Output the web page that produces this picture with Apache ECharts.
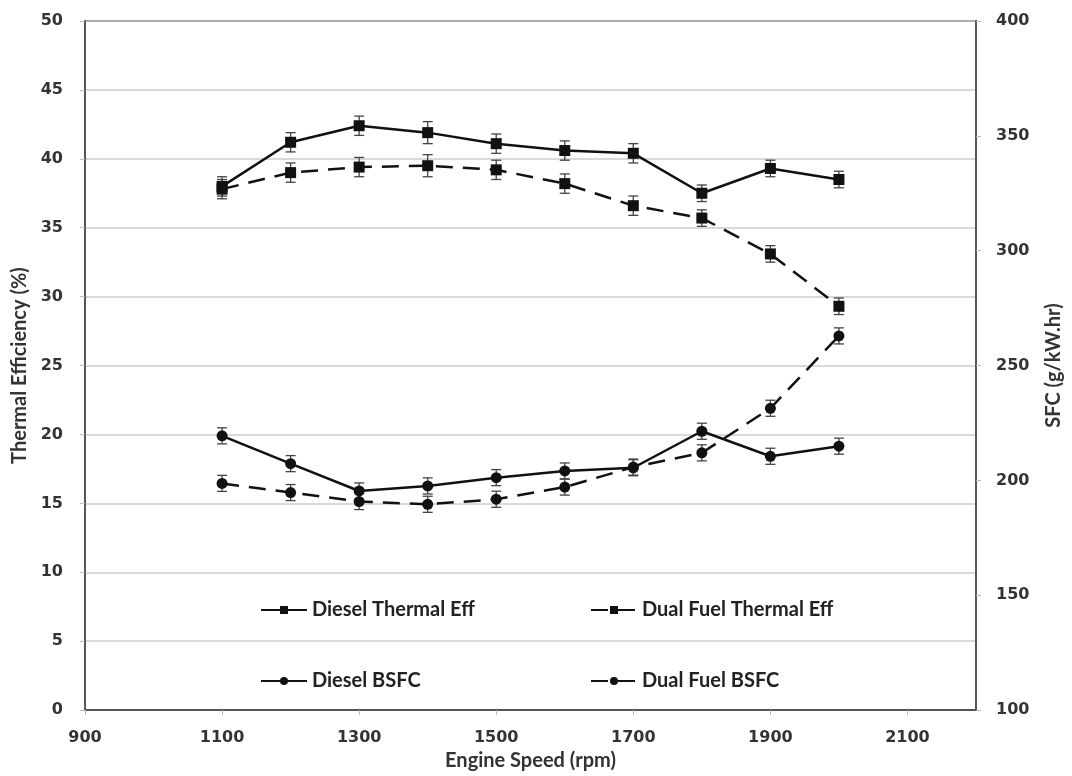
<!DOCTYPE html>
<html>
<head>
<meta charset="utf-8">
<script src="https://cdn.jsdelivr.net/npm/echarts@6/dist/echarts.min.js"></script>
<style>
html,body{margin:0;padding:0;background:#fff;}
#chart{width:1072px;height:776px;}
</style>
</head>
<body>
<div id="chart"></div>
<script>
// ---- data ----
var speeds = [1100, 1200, 1300, 1400, 1500, 1600, 1700, 1800, 1900, 2000];
var dieselThermal = [38.0, 41.2, 42.4, 41.9, 41.1, 40.6, 40.4, 37.5, 39.3, 38.5];
var dualThermal   = [37.8, 39.0, 39.4, 39.5, 39.2, 38.2, 36.6, 35.7, 33.1, 29.3];
var dieselBSFC    = [219.4, 207.3, 195.4, 197.6, 201.2, 204.1, 205.5, 221.4, 210.5, 214.9];
var dualBSFC      = [198.7, 194.7, 190.8, 189.6, 191.8, 197.1, 205.8, 212.0, 231.4, 262.9];
var errThermal    = [0.7, 0.7, 0.7, 0.8, 0.7, 0.7, 0.7, 0.6, 0.6, 0.6];
var errBSFC       = [3.5, 3.5, 3.5, 3.5, 3.5, 3.5, 3.5, 3.5, 3.5, 3.5];
var names = ['Diesel Thermal Eff', 'Dual Fuel Thermal Eff', 'Diesel BSFC', 'Dual Fuel BSFC'];

function pairs(ys) { return speeds.map(function (x, i) { return [x, ys[i]]; }); }
function errData(ys, es) { return speeds.map(function (x, i) { return [x, ys[i] - es[i], ys[i] + es[i]]; }); }

var labelFont = { fontFamily: 'DejaVu Sans', fontWeight: 'bold', fontSize: 16, color: '#333' };
var nameFont = { fontFamily: 'Lato', fontWeight: 'bold', fontSize: 20, color: '#333' };

function errorSeries(ys, es, yIdx) {
  return {
    type: 'custom',
    yAxisIndex: yIdx,
    silent: true,
    z: 1,
    data: errData(ys, es),
    encode: { x: 0, y: [1, 2] },
    renderItem: function (params, api) {
      var x = api.value(0);
      var lo = api.coord([x, api.value(1)]);
      var hi = api.coord([x, api.value(2)]);
      var hw = 5;
      var st = { stroke: '#444', lineWidth: 1.3 };
      return {
        type: 'group',
        children: [
          { type: 'line', shape: { x1: lo[0], y1: lo[1], x2: hi[0], y2: hi[1] }, style: st },
          { type: 'line', shape: { x1: lo[0] - hw, y1: lo[1], x2: lo[0] + hw, y2: lo[1] }, style: st },
          { type: 'line', shape: { x1: hi[0] - hw, y1: hi[1], x2: hi[0] + hw, y2: hi[1] }, style: st }
        ]
      };
    }
  };
}

function lineSeries(name, ys, yIdx, dashed, symbol) {
  return {
    name: name,
    type: 'line',
    yAxisIndex: yIdx,
    data: pairs(ys),
    symbol: symbol,
    symbolSize: 11,
    z: 3,
    lineStyle: { color: '#111', width: 2.5, type: dashed ? [17, 10] : 'solid' },
    itemStyle: { color: '#111' },
    animation: false
  };
}

function legendAt(name, left, top) {
  return {
    data: [name],
    left: left,
    top: top,
    itemWidth: 46,
    itemHeight: 10,
    itemGap: 4,
    selectedMode: false,
    textStyle: { fontFamily: 'Lato', fontWeight: 'bold', fontSize: 20, color: '#222' }
  };
}

var chart = echarts.init(document.getElementById('chart'), null, { renderer: 'canvas' });
chart.setOption({
  animation: false,
  backgroundColor: '#fff',
  grid: { left: 85, right: 92, top: 21, bottom: 63, show: true, borderColor: '#555', borderWidth: 2, backgroundColor: 'transparent' },
  legend: [
    legendAt(names[0], 255, 595),
    legendAt(names[1], 585, 595),
    legendAt(names[2], 255, 666),
    legendAt(names[3], 585, 666)
  ],
  xAxis: {
    type: 'value',
    min: 900, max: 2200, interval: 200,
    name: 'Engine Speed (rpm)',
    nameLocation: 'middle',
    nameGap: 40,
    nameTextStyle: nameFont,
    axisLine: { show: true, lineStyle: { color: '#555', width: 2 } },
    axisTick: { show: true, length: 5, lineStyle: { color: '#bbb' } },
    axisLabel: Object.assign({ margin: 20, showMaxLabel: false, formatter: function (v) { return String(v); } }, labelFont),
    splitLine: { show: false }
  },
  yAxis: [
    {
      type: 'value',
      min: 0, max: 50, interval: 5,
      name: 'Thermal Efficiency (%)',
      nameLocation: 'middle',
      nameGap: 55,
      nameTextStyle: nameFont,
      axisLine: { show: true, lineStyle: { color: '#555', width: 2 } },
      axisTick: { show: true, length: 5, lineStyle: { color: '#bbb' } },
      axisLabel: Object.assign({ margin: 22, formatter: function (v) { return String(v); } }, labelFont),
      splitLine: { show: true, lineStyle: { color: '#ccc', width: 1.5 } }
    },
    {
      type: 'value',
      min: 100, max: 400, interval: 50,
      name: 'SFC (g/kW.hr)',
      nameLocation: 'middle',
      nameGap: 68,
      nameRotate: 90,
      nameTextStyle: nameFont,
      position: 'right',
      axisLine: { show: true, lineStyle: { color: '#555', width: 2 } },
      axisTick: { show: true, length: 5, lineStyle: { color: '#bbb' } },
      axisLabel: Object.assign({ margin: 20, formatter: function (v) { return String(v); } }, labelFont),
      splitLine: { show: false }
    }
  ],
  series: [
    errorSeries(dieselThermal, errThermal, 0),
    errorSeries(dualThermal, errThermal, 0),
    errorSeries(dieselBSFC, errBSFC, 1),
    errorSeries(dualBSFC, errBSFC, 1),
    lineSeries(names[0], dieselThermal, 0, false, 'rect'),
    lineSeries(names[1], dualThermal, 0, true, 'rect'),
    lineSeries(names[2], dieselBSFC, 1, false, 'circle'),
    lineSeries(names[3], dualBSFC, 1, true, 'circle')
  ]
});
</script>
</body>
</html>
